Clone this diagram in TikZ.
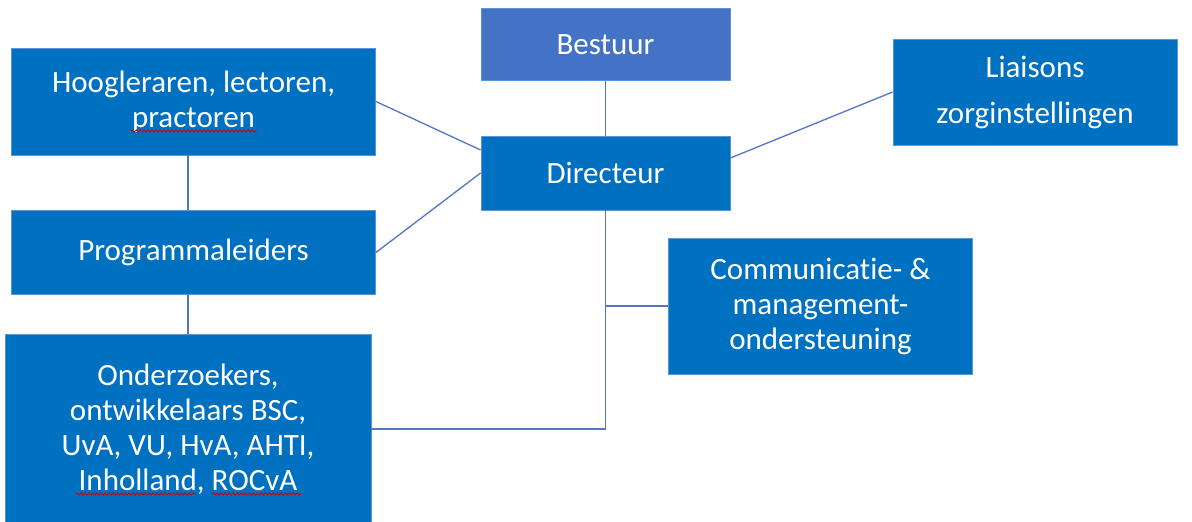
\documentclass[tikz,border=0pt]{standalone}
\usepackage{fontspec}
\setmainfont{Carlito}[Ligatures=NoCommon]
\usetikzlibrary{decorations.pathmorphing}
\definecolor{boxblue}{RGB}{0,112,192}
\definecolor{topblue}{RGB}{68,114,196}
\definecolor{linkblue}{RGB}{82,118,196}
\definecolor{edgeblue}{RGB}{90,150,215}
\tikzset{
  orgbox/.style={rectangle, fill=boxblue, draw=edgeblue, line width=0.8pt, text=white,
    align=center, inner sep=0pt, font=\fontsize{31}{35}\selectfont},
  link/.style={draw=linkblue, line width=1.3pt},
  squig/.style={draw=red!85!black, line width=0.9pt, decorate,
    decoration={snake, segment length=4pt, amplitude=1.1pt}}
}
\begin{document}
\begin{tikzpicture}[x=1pt, y=-1pt]
\useasboundingbox (0,0) rectangle (1192,522);
\fill[white] (0,0) rectangle (1192,522);
% nodes
\node[orgbox, fill=topblue, minimum width=249pt, minimum height=72pt] (best) at (605.5,44.5) {Bestuur};
\node[orgbox, minimum width=249pt, minimum height=74pt] (dir) at (605.5,173) {Directeur};
\node[orgbox, minimum width=364pt, minimum height=107pt] (hoog) at (193.5,101.5) {Hoogleraren, lectoren,\\practoren};
\node[orgbox, minimum width=364pt, minimum height=84pt] (prog) at (193.5,252.5) {Programmaleiders};
\node[orgbox, minimum width=284pt, minimum height=106pt] (liai) at (1035,92) {Liaisons\\[11pt]zorginstellingen};
\node[orgbox, minimum width=304pt, minimum height=136pt] (comm) at (820.5,306) {Communicatie- \&\\management-\\ondersteuning};
\node[orgbox, minimum width=366pt, minimum height=190pt] (onde) at (188,429) {Onderzoekers,\\ontwikkelaars BSC,\\UvA, VU, HvA, AHTI,\\Inholland, ROCvA};
% connectors
\draw[link] (best.south) -- (dir.north);
\draw[link] (hoog.east) -- ([yshift=23pt]dir.west);
\draw[link] (prog.east) -- (dir.west);
\draw[link] (liai.west) -- ([yshift=15pt]dir.east);
\draw[link] (dir.south) |- (onde.east);
\coordinate (br) at (dir.south |- comm.west);
\draw[link] (br) -- (comm.west);
\draw[link] ([xshift=-5.5pt]hoog.south) -- ([xshift=-5.5pt]prog.north);
\draw[link] (onde.north) -- (onde.north |- prog.south);
% spell-check squiggles
\draw[squig] (131,131) -- (257,131);
\draw[squig] (76,494) -- (196,494);
\draw[squig] (212,494) -- (302,494);
\end{tikzpicture}
\end{document}
